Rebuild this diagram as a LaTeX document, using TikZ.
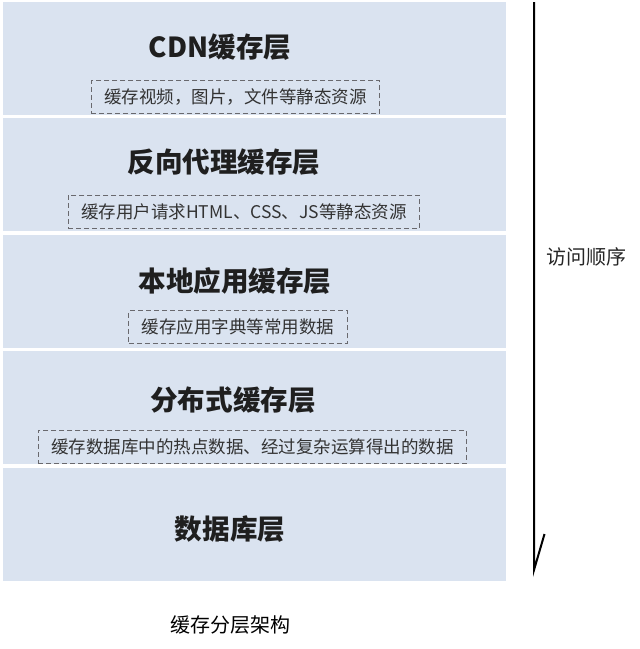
\documentclass[tikz,border=0pt]{standalone}
\usepackage{fontspec}
\setmainfont{Noto Sans CJK SC}
\usepackage{tikz}
\usetikzlibrary{calc}
\definecolor{layerfill}{RGB}{218,227,240}
\definecolor{noteline}{RGB}{105,105,110}

\begin{document}
\begin{tikzpicture}[x=1pt,y=-1pt,node distance=116.5pt,
  layer/.style={fill=layerfill,minimum width=503pt,minimum height=113pt,inner sep=0pt},
  title/.style={font=\fontsize{27.6}{31}\selectfont\bfseries,text=black!88},
  note/.style={draw=noteline,line width=1.1pt,dash pattern=on 5pt off 3pt,font=\fontsize{17.5}{20}\selectfont,
    text=black!80,inner xsep=13pt,inner ysep=0pt,minimum height=33pt}]

      \useasboundingbox (0,0) rectangle (640,649);

      \node[layer] (cdn) at (254,58) {};
      \node[layer] (proxy) [below of=cdn] {};
      \node[layer] (local) [below of=proxy] {};
      \node[layer] (dist) [below of=local] {};
      \node[layer] (db) [below of=dist] {};

      \node[title] (cdnT) at ($(cdn.north)+(-34,45.5)$) {CDN缓存层};
      \node[note] (cdnN) at ($(cdn.north)+(-18.5,96)$) {缓存视频，图片，文件等静态资源};
      \node[title] (proxyT) at ($(proxy.north)+(-30,44)$) {反向代理缓存层};
      \node[note] (proxyN) at ($(proxy.north)+(-10,94)$) {缓存用户请求HTML、CSS、JS等静态资源};
      \node[title] (localT) at ($(local.north)+(-19,47)$) {本地应用缓存层};
      \node[note] (localN) at ($(local.north)+(-16,93)$) {缓存应用字典等常用数据};
      \node[title] (distT) at ($(dist.north)+(-21,49)$) {分布式缓存层};
      \node[note] (distN) at ($(dist.north)+(-1.5,96)$) {缓存数据库中的热点数据、经过复杂运算得出的数据};
      \node[title] (dbT) at ($(db.north)+(-24,62)$) {数据库层};

      \node[font=\fontsize{20}{24}\selectfont] (caption) at (230,625) {缓存分层架构};
      \node[font=\fontsize{20}{24}\selectfont,text=black!85] (order) at (586,257) {访问顺序};

      % access order line with its half tip
      \coordinate (start) at (534,2);
      \coordinate (finish) at (534,570);
      \coordinate (barb) at (544.5,534);
      \draw [line width=2pt, black, line join=miter] (start) -- (finish) -- (barb);
    \end{tikzpicture}
\end{document}
